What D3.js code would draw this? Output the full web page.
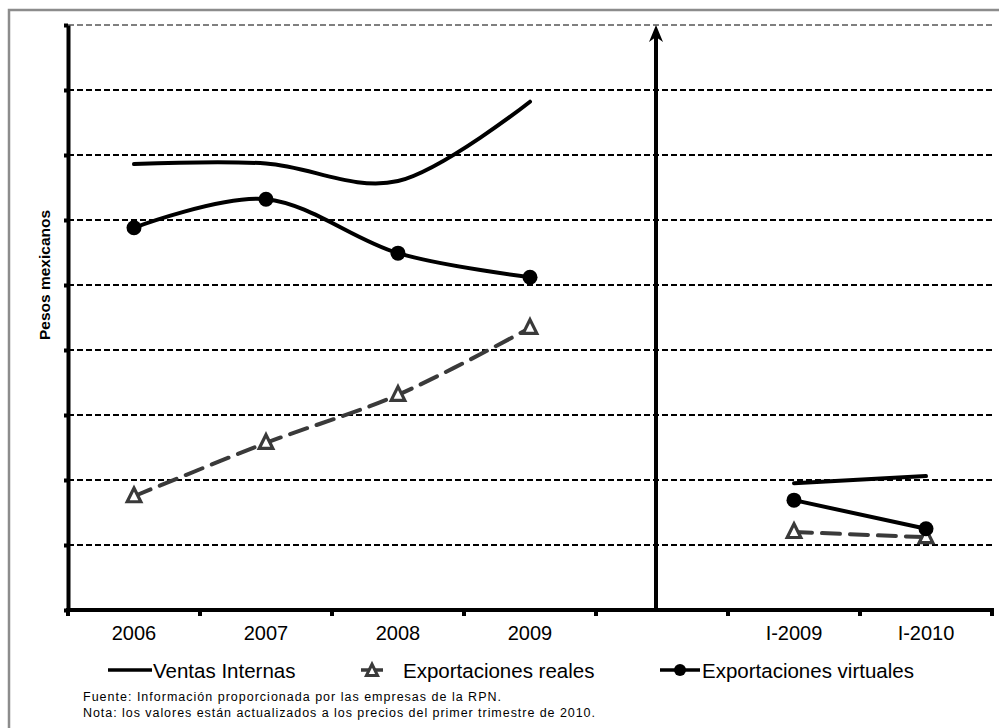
<!DOCTYPE html>
<html>
<head>
<meta charset="utf-8">
<script src="https://cdn.jsdelivr.net/npm/d3@7/dist/d3.min.js"></script>
<style>
  html, body { margin: 0; padding: 0; background: #fff; }
  svg { display: block; font-family: "Liberation Sans", Arial, sans-serif; }
</style>
</head>
<body>
<svg id="chart" width="999" height="728"></svg>
<script>
// Categories on the horizontal axis (the blank slot separates annual from quarterly data)
const categories = ["2006", "2007", "2008", "2009", " ", "I-2009", "I-2010"];

// Series values (index units on the vertical scale, no labels shown)
const ventasInternas        = [6.86, 6.87, 6.60, 7.82, null, 1.95, 2.06];
const exportacionesReales   = [1.75, 2.57, 3.31, 4.34, null, 1.20, 1.12];
const exportacionesVirtuales= [5.88, 6.32, 5.49, 5.12, null, 1.69, 1.25];

const seriesNames = ["Ventas Internas", "Exportaciones reales", "Exportaciones virtuales"];
const yTicks = [0, 1, 2, 3, 4, 5, 6, 7, 8, 9];

const svg = d3.select("#chart");

// Outer frame
svg.append("rect")
  .attr("x", 9).attr("y", 10).attr("width", 1000).attr("height", 730)
  .attr("fill", "none").attr("stroke", "#8c8c8c").attr("stroke-width", 2.5);

const x = d3.scaleBand().domain(categories).range([68, 992]).padding(0);
const y = d3.scaleLinear().domain([0, 9]).range([610, 25]);
const cx = d => x(d) + x.bandwidth() / 2;

// Horizontal dashed gridlines
svg.append("g").selectAll("line")
  .data(yTicks.filter(t => t > 0))
  .join("line")
  .attr("x1", 68).attr("x2", 992)
  .attr("y1", d => y(d)).attr("y2", d => y(d))
  .attr("stroke", "#000")
  .attr("stroke-width", d => d === 9 ? 1 : 1.8)
  .attr("stroke-dasharray", "6,3");

// Left axis (no labels)
const yAxis = svg.append("g").attr("transform", "translate(68,0)")
  .call(d3.axisLeft(y).tickValues(yTicks).tickFormat("").tickSize(4).tickSizeOuter(0));
yAxis.select(".domain").attr("stroke", "#000").attr("stroke-width", 4);
yAxis.selectAll(".tick line").attr("stroke", "#000").attr("stroke-width", 4);

// Bottom axis: labels at band centres, ticks at band boundaries
const xAxis = svg.append("g").attr("transform", "translate(0,610)")
  .call(d3.axisBottom(x).tickSize(0).tickPadding(16));
xAxis.select(".domain").attr("stroke", "#000").attr("stroke-width", 4)
  .attr("d", `M66,0H994`);
xAxis.selectAll(".tick text")
  .attr("font-size", 20).attr("fill", "#000")
  .attr("font-family", "Liberation Sans, Arial, sans-serif");
const bounds = categories.map(c => x(c)).concat([x.range()[1]]);
xAxis.selectAll("line.bound").data(bounds).join("line")
  .attr("class", "bound")
  .attr("x1", d => d).attr("x2", d => d)
  .attr("y1", 0).attr("y2", 6)
  .attr("stroke", "#000").attr("stroke-width", 4);

// Vertical divider arrow between annual and quarterly data
const arrowX = cx(" ") - 6;
svg.append("line")
  .attr("x1", arrowX).attr("x2", arrowX)
  .attr("y1", 610).attr("y2", 36)
  .attr("stroke", "#000").attr("stroke-width", 4);
svg.append("path")
  .attr("d", `M${arrowX},25 L${arrowX - 7},42 L${arrowX},37 L${arrowX + 7},42 Z`)
  .attr("fill", "#000");

// Y label
svg.append("text")
  .attr("transform", "translate(50,275) rotate(-90)")
  .attr("text-anchor", "middle")
  .attr("font-size", 15.5).attr("font-weight", "bold")
  .text("Pesos mexicanos");

const line = d3.line()
  .defined(d => d.v !== null)
  .x(d => cx(d.c))
  .y(d => y(d.v))
  .curve(d3.curveCardinal.tension(0));

const toPts = arr => categories.map((c, i) => ({ c, v: arr[i] }));

// Ventas Internas
svg.append("path")
  .datum(toPts(ventasInternas))
  .attr("d", line)
  .attr("fill", "none").attr("stroke", "#000").attr("stroke-width", 4)
  .attr("stroke-linecap", "round");

// Exportaciones reales
svg.append("path")
  .datum(toPts(exportacionesReales))
  .attr("d", line)
  .attr("fill", "none").attr("stroke", "#3a3a3a").attr("stroke-width", 4)
  .attr("stroke-dasharray", "18,10").attr("stroke-linecap", "round");

const tri = (px, py, s) => `M${px},${py - s * 0.75} L${px + s * 0.62},${py + s * 0.5} L${px - s * 0.62},${py + s * 0.5} Z`;
svg.append("g").selectAll("path")
  .data(toPts(exportacionesReales).filter(d => d.v !== null))
  .join("path")
  .attr("d", d => tri(cx(d.c), y(d.v), 11))
  .attr("fill", "#fff").attr("stroke", "#3a3a3a").attr("stroke-width", 3.2)
  .attr("stroke-linejoin", "miter");

// Exportaciones virtuales
svg.append("path")
  .datum(toPts(exportacionesVirtuales))
  .attr("d", line)
  .attr("fill", "none").attr("stroke", "#000").attr("stroke-width", 4)
  .attr("stroke-linecap", "round");
svg.append("g").selectAll("circle")
  .data(toPts(exportacionesVirtuales).filter(d => d.v !== null))
  .join("circle")
  .attr("cx", d => cx(d.c)).attr("cy", d => y(d.v)).attr("r", 7.5)
  .attr("fill", "#000");

// Legend
const legend = svg.append("g").attr("font-size", 20.5);
const legY = 670;
// item 1
legend.append("line").attr("x1", 108).attr("x2", 152).attr("y1", legY).attr("y2", legY)
  .attr("stroke", "#000").attr("stroke-width", 3.5);
legend.append("text").attr("x", 153).attr("y", legY + 8).text(seriesNames[0]);
// item 2
legend.append("line").attr("x1", 361).attr("x2", 383).attr("y1", legY).attr("y2", legY)
  .attr("stroke", "#3a3a3a").attr("stroke-width", 3.5);
legend.append("path").attr("d", tri(372, legY + 1, 9))
  .attr("fill", "#fff").attr("stroke", "#3a3a3a").attr("stroke-width", 3);
legend.append("text").attr("x", 403).attr("y", legY + 8).text(seriesNames[1]);
// item 3
legend.append("line").attr("x1", 660).attr("x2", 700).attr("y1", legY).attr("y2", legY)
  .attr("stroke", "#000").attr("stroke-width", 3.5);
legend.append("circle").attr("cx", 680).attr("cy", legY).attr("r", 6).attr("fill", "#000");
legend.append("text").attr("x", 702).attr("y", legY + 8).text(seriesNames[2]);

// Notes
const notes = svg.append("g").attr("font-size", 12.5);
notes.append("text").attr("x", 83).attr("y", 701)
  .attr("textLength", 418).attr("lengthAdjust", "spacing")
  .text("Fuente: Información proporcionada por las empresas de la RPN.");
notes.append("text").attr("x", 83).attr("y", 717)
  .attr("textLength", 512).attr("lengthAdjust", "spacing")
  .text("Nota: los valores están actualizados a los precios del primer trimestre de 2010.");
</script>
</body>
</html>
